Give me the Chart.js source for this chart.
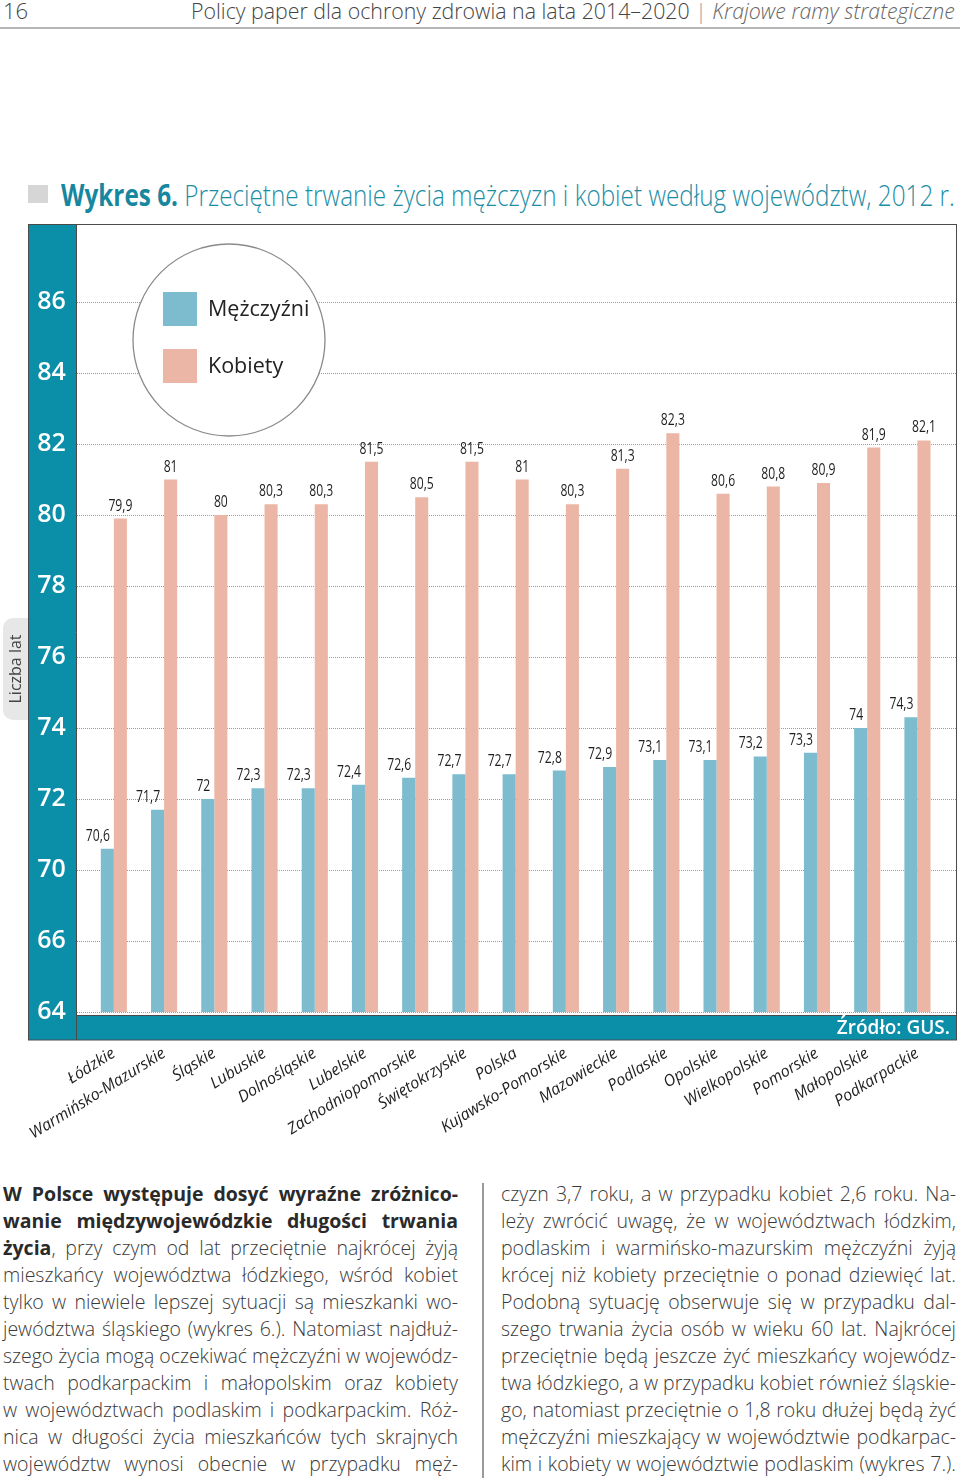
<!DOCTYPE html>
<html><head><meta charset="utf-8">
<script src="https://cdn.jsdelivr.net/npm/chart.js@4/dist/chart.umd.min.js"></script>
<style>
body{margin:0;width:960px;height:1481px;position:relative;background:#fff;font-family:'Open Sans',sans-serif;overflow:hidden}
.fit{position:absolute;white-space:nowrap;transform-origin:0 50%}
#pg{left:3px;top:-3px;font-size:22px;font-weight:300;color:#444;line-height:26px}
#hdr{left:191px;top:-3px;font-size:22px;font-weight:300;color:#444;line-height:26px}
#hdr .sep{color:#999}
#hdr i{color:#666}
#hline{position:absolute;left:0;top:27px;width:960px;height:2px;background:#b5b5b5}
#sq{position:absolute;left:28px;top:185px;width:20px;height:18px;background:#d6d6d6}
#title{left:61px;top:177px;font-size:30px;line-height:36px;font-weight:300;color:#1b8ea5}
#title b{font-weight:700;color:#16879e}
canvas{position:absolute;left:0;top:220px}
.col{position:absolute;top:1180px;width:455px;font-size:19.5px;line-height:27px;color:#3a3a3a;font-weight:300}
.col div{height:27px;white-space:nowrap;transform-origin:0 50%}
.col div span.ln{display:inline-block}
.col b{font-weight:700;color:#2a2a2a}
#colL{left:3px}
#colR{left:501px}
#vline{position:absolute;left:482px;top:1183px;width:1.5px;height:295px;background:#9a9a9a}
</style></head><body>
<div id="pg" class="fit">16</div>
<div id="hdr" class="fit" data-w="764">Policy paper dla ochrony zdrowia na lata 2014–2020 <span class="sep">|</span> <i>Krajowe ramy strategiczne</i></div>
<div id="hline"></div>
<div id="sq"></div>
<div id="title" class="fit" data-w="894"><b>Wykres 6.</b> Przeciętne trwanie życia mężczyzn i kobiet według województw, 2012 r.</div>
<canvas id="c" width="960" height="930"></canvas>
<div id="colL" class="col">
<div><span class="ln"><b>W Polsce występuje dosyć wyraźne zróżnico-</b></span></div>
<div><span class="ln"><b>wanie międzywojewódzkie długości trwania</b></span></div>
<div><span class="ln"><b>życia</b>, przy czym od lat przeciętnie najkrócej żyją</span></div>
<div><span class="ln">mieszkańcy województwa łódzkiego, wśród kobiet</span></div>
<div><span class="ln">tylko w niewiele lepszej sytuacji są mieszkanki wo-</span></div>
<div><span class="ln">jewództwa śląskiego (wykres 6.). Natomiast najdłuż-</span></div>
<div><span class="ln">szego życia mogą oczekiwać mężczyźni w wojewódz-</span></div>
<div><span class="ln">twach podkarpackim i małopolskim oraz kobiety</span></div>
<div><span class="ln">w województwach podlaskim i podkarpackim. Róż-</span></div>
<div><span class="ln">nica w długości życia mieszkańców tych skrajnych</span></div>
<div><span class="ln">województw wynosi obecnie w przypadku męż-</span></div>
</div>
<div id="vline"></div>
<div id="colR" class="col">
<div><span class="ln">czyzn 3,7 roku, a w przypadku kobiet 2,6 roku. Na-</span></div>
<div><span class="ln">leży zwrócić uwagę, że w województwach łódzkim,</span></div>
<div><span class="ln">podlaskim i warmińsko-mazurskim mężczyźni żyją</span></div>
<div><span class="ln">krócej niż kobiety przeciętnie o ponad dziewięć lat.</span></div>
<div><span class="ln">Podobną sytuację obserwuje się w przypadku dal-</span></div>
<div><span class="ln">szego trwania życia osób w wieku 60 lat. Najkrócej</span></div>
<div><span class="ln">przeciętnie będą jeszcze żyć mieszkańcy wojewódz-</span></div>
<div><span class="ln">twa łódzkiego, a w przypadku kobiet również śląskie-</span></div>
<div><span class="ln">go, natomiast przeciętnie o 1,8 roku dłużej będą żyć</span></div>
<div><span class="ln">mężczyźni mieszkający w województwie podkarpac-</span></div>
<div><span class="ln">kim i kobiety w województwie podlaskim (wykres 7.).</span></div>
</div>
<script>
// ---- data ----
const categories = ['Łódzkie','Warmińsko-Mazurskie','Śląskie','Lubuskie','Dolnośląskie','Lubelskie','Zachodniopomorskie','Świętokrzyskie','Polska','Kujawsko-Pomorskie','Mazowieckie','Podlaskie','Opolskie','Wielkopolskie','Pomorskie','Małopolskie','Podkarpackie'];
const men   = [70.6, 71.7, 72, 72.3, 72.3, 72.4, 72.6, 72.7, 72.7, 72.8, 72.9, 73.1, 73.1, 73.2, 73.3, 74, 74.3];
const women = [79.9, 81, 80, 80.3, 80.3, 81.5, 80.5, 81.5, 81, 80.3, 81.3, 82.3, 80.6, 80.8, 80.9, 81.9, 82.1];
const yTicks = [64, 66, 70, 72, 74, 76, 78, 80, 82, 84, 86];
const seriesNames = ['Mężczyźni', 'Kobiety'];
const axisTitle = 'Liczba lat';
const sourceText = 'Źródło: GUS.';

// fit header texts
document.querySelectorAll('.fit[data-w]').forEach(el => {
  const w = el.scrollWidth; el.style.transform = 'scaleX(' + (el.dataset.w / w) + ')';
});
// justify body lines to 455px
document.querySelectorAll('.col span.ln').forEach(sp => {
  const target = 455;
  const w = sp.getBoundingClientRect().width;
  const spaces = (sp.textContent.match(/ /g) || []).length;
  if (w < target && spaces) {
    sp.style.wordSpacing = ((target - w) / spaces) + 'px';
  } else if (w > target) {
    sp.parentNode.style.transform = 'scaleX(' + (target / w) + ')';
  }
});

const OFF = 220;
const TEAL = '#0b8ea8';
const BLUE = '#7dbccf';
const PINK = '#ebb6a5';

// broken (piecewise) axis: ticks equally spaced
function toIdx(v) {
  for (let i = 0; i < yTicks.length - 1; i++) {
    if (v <= yTicks[i + 1]) return Math.max(0, i + (v - yTicks[i]) / (yTicks[i + 1] - yTicks[i]));
  }
  const n = yTicks.length - 1;
  return n + (v - yTicks[n]) / (yTicks[n] - yTicks[n - 1]);
}
function fromIdx(t) {
  const i = Math.max(0, Math.min(yTicks.length - 2, Math.floor(t)));
  return yTicks[i] + (t - i) * (yTicks[i + 1] - yTicks[i]);
}
class BrokenScale extends Chart.LinearScale {
  buildTicks() { return yTicks.map(v => ({ value: v })); }
  getPixelForValue(v) { return (v === null || v === undefined) ? NaN : super.getPixelForValue(toIdx(v)); }
  getValueForPixel(p) { return fromIdx(super.getValueForPixel(p)); }
}
BrokenScale.id = 'broken';
BrokenScale.defaults = Chart.LinearScale.defaults;
Chart.register(BrokenScale);

const fmt = v => String(v).replace('.', ',');

const decor = {
  id: 'decor',
  beforeDraw(chart) {
    const ctx = chart.ctx;
    ctx.save();
    ctx.fillStyle = '#fff'; ctx.fillRect(0, 0, chart.width, chart.height);
    const top = 224.5 - OFF, bot = 1040 - OFF;
    ctx.fillStyle = TEAL;
    ctx.fillRect(28, top, 48, bot - top);
    ctx.fillRect(76, 1015 - OFF, 881, 25);
    ctx.strokeStyle = '#4a4a4a'; ctx.lineWidth = 1;
    ctx.strokeRect(28.5, top, 928, bot - top);
    ctx.beginPath();
    ctx.moveTo(76.5, top); ctx.lineTo(76.5, bot);
    ctx.moveTo(76.5, 1015.5 - OFF); ctx.lineTo(957, 1015.5 - OFF);
    ctx.stroke();
    // axis title box
    ctx.fillStyle = '#e7e7e7';
    ctx.beginPath();
    if (ctx.roundRect) ctx.roundRect(3, 618 - OFF, 25, 102, [10, 0, 0, 10]); else ctx.rect(3, 618 - OFF, 25, 102);
    ctx.fill();
    ctx.translate(16, 669 - OFF); ctx.rotate(-Math.PI / 2);
    ctx.fillStyle = '#444'; ctx.font = '400 16px "Open Sans"';
    ctx.textAlign = 'center'; ctx.textBaseline = 'middle';
    ctx.fillText(axisTitle, 0, 0);
    ctx.restore();
    ctx.save();
    ctx.fillStyle = '#fff'; ctx.font = '600 19px "Open Sans"';
    ctx.textAlign = 'right'; ctx.textBaseline = 'middle';
    ctx.fillText(sourceText, 950, 1029 - OFF);
    ctx.restore();
  },
  beforeDatasetsDraw(chart) {
    const ctx = chart.ctx, y = chart.scales.y;
    ctx.save();
    ctx.strokeStyle = '#9a9a9a'; ctx.lineWidth = 1; ctx.setLineDash([1, 1]);
    y.ticks.forEach((t, i) => {
      const py = Math.round(y.getPixelForTick(i)) + 0.5;
      ctx.beginPath(); ctx.moveTo(77, py); ctx.lineTo(957, py); ctx.stroke();
    });
    ctx.restore();
  },
  afterDatasetsDraw(chart) {
    const ctx = chart.ctx;
    ctx.save();
    ctx.fillStyle = '#1e1e1e'; ctx.font = '400 16px "Open Sans"'; ctx.textBaseline = 'alphabetic';
    chart.data.datasets.forEach((ds, di) => {
      chart.getDatasetMeta(di).data.forEach((el, i) => {
        const txt = fmt(ds.data[i]);
        ctx.save();
        if (di === 0) { ctx.translate(el.x + el.width / 2 - 4, el.y - 8); ctx.textAlign = 'right'; }
        else { ctx.translate(el.x, el.y - 8); ctx.textAlign = 'center'; }
        ctx.scale(0.76, 1);
        ctx.fillText(txt, 0, 0);
        ctx.restore();
      });
    });
    ctx.restore();
  },
  afterDraw(chart) {
    const ctx = chart.ctx;
    ctx.save();
    ctx.beginPath(); ctx.arc(229, 340 - OFF, 96, 0, Math.PI * 2);
    ctx.fillStyle = '#fff'; ctx.fill();
    ctx.strokeStyle = '#8a8a8a'; ctx.lineWidth = 1.3; ctx.stroke();
    ctx.font = '400 21.5px "Open Sans"'; ctx.textBaseline = 'middle'; ctx.textAlign = 'left';
    chart.data.datasets.forEach((ds, i) => {
      const yy = (i === 0 ? 292 : 349) - OFF;
      ctx.fillStyle = ds.backgroundColor; ctx.fillRect(163, yy, 34, 34);
      ctx.fillStyle = '#222'; ctx.fillText(ds.label, 208, yy + 18);
    });
    ctx.restore();
  }
};

new Chart(document.getElementById('c'), {
  type: 'bar',
  data: {
    labels: categories,
    datasets: [
      { label: seriesNames[0], data: men, backgroundColor: BLUE, base: 64 },
      { label: seriesNames[1], data: women, backgroundColor: PINK, base: 64 }
    ]
  },
  options: {
    responsive: false, animation: false, devicePixelRatio: 1,
    categoryPercentage: 0.52, barPercentage: 1,
    layout: { padding: { top: 82, right: 13, left: 0, bottom: 0 } },
    plugins: { legend: { display: false }, tooltip: { enabled: false } },
    scales: {
      x: {
        grid: { display: false, drawTicks: false }, border: { display: false },
        ticks: { autoSkip: false, minRotation: 32, maxRotation: 32, padding: 32, color: '#222',
          font: { family: 'Open Sans', size: 16, style: 'italic', weight: 400 } },
        afterFit: s => { s.height = 138; }
      },
      y: {
        type: 'broken', min: 0, max: 10,
        grid: { display: false, drawTicks: false }, border: { display: false },
        ticks: { color: '#fff', padding: 23, font: { family: 'Open Sans', size: 25, weight: 600 }, callback: v => String(v) },
        afterFit: s => { s.width = 88.75; }
      }
    }
  },
  plugins: [decor]
});
</script>
</body></html>
